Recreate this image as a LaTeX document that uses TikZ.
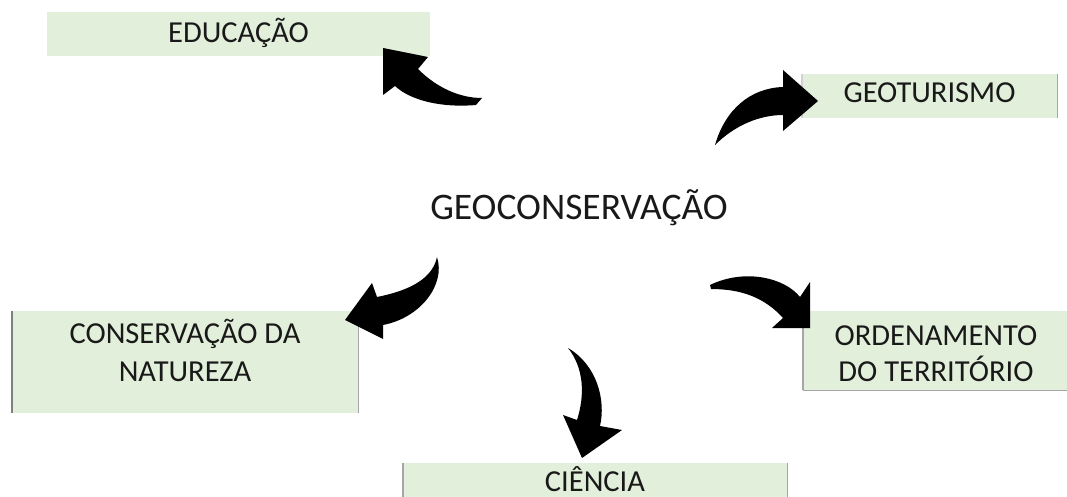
\documentclass[tikz,border=0pt]{standalone}
\usepackage{fontspec}
\setmainfont{Carlito}
\definecolor{boxgreen}{HTML}{E2EFDA}
\definecolor{edgegray}{HTML}{A6A6A6}
\definecolor{edgedark}{HTML}{808080}
\tikzset{
  cell/.style={rectangle, fill=boxgreen, draw=none, inner sep=0pt, anchor=north west},
  celltext/.style={inner sep=0pt, anchor=base, font=\fontsize{30.5}{37}\selectfont, text=black!90},
  maintext/.style={inner sep=0pt, anchor=base, font=\fontsize{37.5}{40}\selectfont, text=black!90},
  edgeline/.style={draw=edgegray, line width=1.2pt},
  edgelinedark/.style={draw=edgedark, line width=1.6pt},
  blockarrow/.style={fill=black, draw=none}
}
\begin{document}
\begin{tikzpicture}[x=1pt,y=-1pt]
\useasboundingbox (0,0) rectangle (1067,497);

% boxes
\node[cell, minimum width=383pt, minimum height=44pt] (edubox) at (47,12) {};
\node[cell, minimum width=255pt, minimum height=44pt] (geobox) at (802,74) {};
\node[cell, minimum width=346pt, minimum height=102pt] (conbox) at (12,311) {};
\node[cell, minimum width=264pt, minimum height=79pt] (ordbox) at (803,311) {};
\node[cell, minimum width=384pt, minimum height=34pt] (ciebox) at (403,463) {};

% box edge lines
\draw[edgeline] (geobox.north east) -- (geobox.south east);
\draw[edgeline, draw=edgegray!50] (geobox.north west) -- (geobox.south west);
\draw[edgelinedark] (conbox.north west) -- (conbox.south west);
\draw[edgeline] (conbox.north east) -- (conbox.south east);
\draw[edgeline] (ordbox.north west) -- (ordbox.south west);
\draw[edgeline] (ordbox.south west) -- (ordbox.south east);
\draw[edgeline] (ciebox.north west) -- (ciebox.south west);
\draw[edgeline] (ciebox.north east) -- (ciebox.south east);

% texts
\node[celltext] (edu) at (238.5,43) {EDUCAÇÃO};
\node[celltext] (geo) at (929.5,103) {GEOTURISMO};
\node[celltext] (con1) at (185,343) {CONSERVAÇÃO DA};
\node[celltext] (con2) at (185,381) {NATUREZA};
\node[celltext] (ord1) at (936,345) {ORDENAMENTO};
\node[celltext] (ord2) at (936,381) {DO TERRITÓRIO};
\node[celltext] (cie) at (595,491) {CIÊNCIA};
\node[maintext] (center) at (579,219) {GEOCONSERVAÇÃO};

% curved block arrows
% to EDUCACAO
\fill[blockarrow] (383,48) -- (428,57) -- (418,69)
  .. controls (437,88) and (460,98) .. (482,98)
  -- (476,105)
  .. controls (440,108) and (410,100) .. (395,86)
  -- (383,95) -- cycle;
% to GEOTURISMO
\fill[blockarrow] (818,101) -- (783,70) -- (783,87)
  .. controls (750,88) and (725,110) .. (715,145)
  .. controls (735,125) and (760,115) .. (783,115)
  -- (783,131) -- cycle;
% to CONSERVACAO
\fill[blockarrow] (345,320) -- (372,283) -- (377,297)
  .. controls (402,292) and (432,282) .. (437,257)
  .. controls (446,285) and (420,318) .. (383,325)
  -- (383,339) -- cycle;
% to ORDENAMENTO
\fill[blockarrow] (810,328) -- (772,328) -- (783,318)
  .. controls (765,298) and (742,289) .. (711,289)
  -- (710,285)
  .. controls (745,268) and (785,278) .. (800,297)
  -- (810,282) -- cycle;
% to CIENCIA
\fill[blockarrow] (582,458) -- (563,415) -- (577,420)
  .. controls (585,395) and (584,368) .. (568,348)
  .. controls (597,365) and (606,400) .. (600,426)
  -- (622,430) -- cycle;
\end{tikzpicture}
\end{document}
